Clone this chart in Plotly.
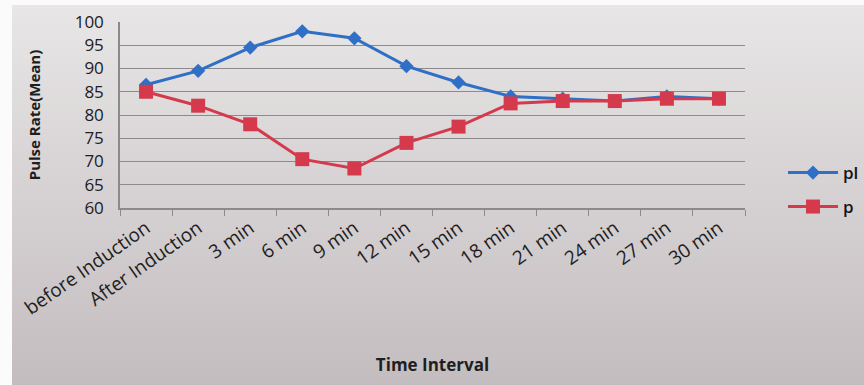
import plotly.graph_objects as go

# Time points and mean pulse rate for the two groups
time_labels = ["before Induction", "After Induction", "3 min", "6 min", "9 min",
               "12 min", "15 min", "18 min", "21 min", "24 min", "27 min", "30 min"]
group_pl = [86.5, 89.5, 94.5, 98.0, 96.5, 90.5, 87.0, 84.0, 83.5, 83.0, 84.0, 83.5]
group_p = [85.0, 82.0, 78.0, 70.5, 68.5, 74.0, 77.5, 82.5, 83.0, 83.0, 83.5, 83.5]
y_ticks = [60, 65, 70, 75, 80, 85, 90, 95, 100]

W, H = 864, 385
ML, MR, MT, MB = 120, 119, 22, 177
PW, PH = W - ML - MR, H - MT - MB


def px_to_paper_x(px):
    return (px - ML) / PW


def px_to_paper_y(py):
    return (H - MB - py) / PH


fig = go.Figure()
fig.add_trace(go.Scatter(
    x=time_labels, y=group_pl, name="pl", mode="lines+markers",
    line=dict(color="#2f6fc6", width=3),
    marker=dict(symbol="diamond", size=11, color="#2f6fc6"),
    legend="legend",
))
fig.add_trace(go.Scatter(
    x=time_labels, y=group_p, name="p", mode="lines+markers",
    line=dict(color="#d43a4c", width=3),
    marker=dict(symbol="square", size=14, color="#d43a4c"),
    legend="legend2",
))

# paper tone: light at the top, greyer towards the bottom
top_rgb, bot_rgb = (232, 230, 230), (196, 189, 192)
n_bands = 48
shapes = []
for i in range(n_bands):
    t = i / (n_bands - 1)
    r, g, b = (round(a + (c - a) * t) for a, c in zip(top_rgb, bot_rgb))
    y0 = H * i / n_bands
    y1 = H * (i + 1) / n_bands + 1
    shapes.append(dict(type="rect", xref="paper", yref="paper", layer="below",
                       x0=px_to_paper_x(0), x1=px_to_paper_x(W),
                       y0=px_to_paper_y(y1), y1=px_to_paper_y(y0),
                       fillcolor=f"rgb({r},{g},{b})", line=dict(width=0)))
# white border of the page at top and left
shapes.append(dict(type="rect", xref="paper", yref="paper", layer="below",
                   x0=px_to_paper_x(0), x1=px_to_paper_x(W),
                   y0=px_to_paper_y(5), y1=px_to_paper_y(0),
                   fillcolor="#fbfbfb", line=dict(width=0)))
shapes.append(dict(type="rect", xref="paper", yref="paper", layer="below",
                   x0=px_to_paper_x(0), x1=px_to_paper_x(12),
                   y0=px_to_paper_y(H), y1=px_to_paper_y(0),
                   fillcolor="#fbfbfb", line=dict(width=0)))

legend_style = dict(xanchor="left", yanchor="middle", bgcolor="rgba(0,0,0,0)",
                    itemwidth=50,
                    font=dict(size=17, color="#151515", family="Open Sans, sans-serif",
                              weight=600))

fig.update_layout(
    width=W, height=H,
    margin=dict(l=ML, r=MR, t=MT, b=MB, autoexpand=False),
    paper_bgcolor="#d6d2d3", plot_bgcolor="rgba(0,0,0,0)",
    font=dict(family="Open Sans, Noto Sans, sans-serif", color="#2a2a2a"),
    shapes=shapes,
    showlegend=True,
    legend=dict(x=px_to_paper_x(783), y=px_to_paper_y(173), **legend_style),
    legend2=dict(x=px_to_paper_x(783), y=px_to_paper_y(207), **legend_style),
    xaxis=dict(
        type="category", range=[-0.5, 11.5], tickangle=-35,
        tickfont=dict(size=19, color="#202020"),
        showline=True, linecolor="#8a8a8a", linewidth=1.5,
        ticks="outside", tickson="boundaries", ticklen=6, tickcolor="#8a8a8a",
        showgrid=False,
        title=dict(text="<b>Time Interval</b>", font=dict(size=17, color="#1e1e1e"), standoff=40),
    ),
    yaxis=dict(
        range=[60, 100], tickvals=y_ticks, ticks="outside", ticklen=11, tickcolor="rgba(0,0,0,0)",
        tickfont=dict(size=17, color="#202020"),
        showline=True, linecolor="#8a8a8a", linewidth=1.5,
        showgrid=True, gridcolor="#8c8a8a", gridwidth=1.2, zeroline=False,
        title=dict(text="<b>Pulse Rate(Mean)</b>", font=dict(size=15, color="#1e1e1e"), standoff=30),
    ),
)

fig.write_html("out.html")
